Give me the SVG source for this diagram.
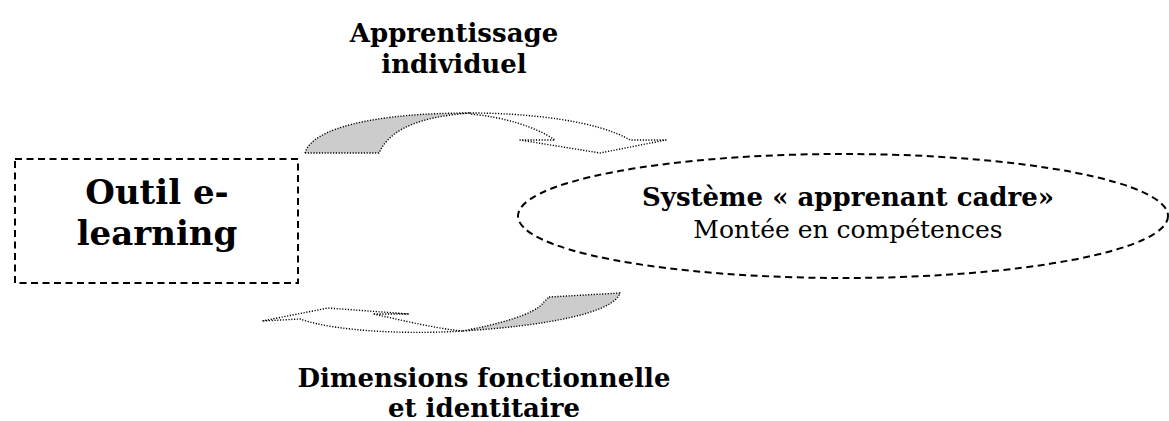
<svg xmlns="http://www.w3.org/2000/svg" width="1169" height="421" viewBox="0 0 1169 421">
<style>
.bg{fill:#ffffff}
.dash{fill:none;stroke:#000;stroke-width:2;stroke-dasharray:7 4.5}
.dot{stroke:#000;stroke-width:1.4;stroke-dasharray:1.2 1.6;stroke-linejoin:round}
.back{fill:#cccccc}
.front{fill:#ffffff}
.b{font-family:"DejaVu Serif","Liberation Serif",serif;font-weight:bold;fill:#000;text-anchor:middle}
.r{font-family:"DejaVu Serif","Liberation Serif",serif;fill:#000;text-anchor:middle}
</style>
<rect class="bg" x="0" y="0" width="1169" height="421"/>
<g id="connectors">
  <g id="arrow-top">
    <path class="dot back" d="M305,153 C312,128 375,113 470,113 C432,116 392,124 379,153 Z"/>
    <path class="dot front" d="M470,113 C530,113 598,121 630,140 L666,140 L600,153 L520,140 L555,140 C536,127 504,117 470,114 Z"/>
  </g>
  <g id="arrow-bottom">
    <path class="dot back" d="M549,297 L620,293 C614,313 545,326 462,331 C500,324 535,314 543,303 Z"/>
    <path class="dot front" d="M462,331 C420,334 340,333 300,319 L262,321 L328,308 L409,314 L373,314 C402,320 432,328 462,331 Z"/>
  </g>
</g>
<g id="node-outil">
  <rect class="dash" x="15" y="159" width="283" height="124"/>
  <text class="b" x="157" y="204" font-size="34">Outil e-</text>
  <text class="b" x="157" y="245" font-size="34">learning</text>
</g>
<g id="node-systeme">
  <ellipse class="dash" cx="843" cy="216" rx="325" ry="62"/>
  <text class="b" x="848" y="206" font-size="26">Système « apprenant cadre»</text>
  <text class="r" x="848" y="238" font-size="25">Montée en compétences</text>
</g>
<g id="label-top">
  <text class="b" x="454" y="42" font-size="26">Apprentissage</text>
  <text class="b" x="454" y="73" font-size="26">individuel</text>
</g>
<g id="label-bottom">
  <text class="b" x="484" y="387" font-size="26">Dimensions fonctionnelle</text>
  <text class="b" x="484" y="417" font-size="26">et identitaire</text>
</g>
</svg>
